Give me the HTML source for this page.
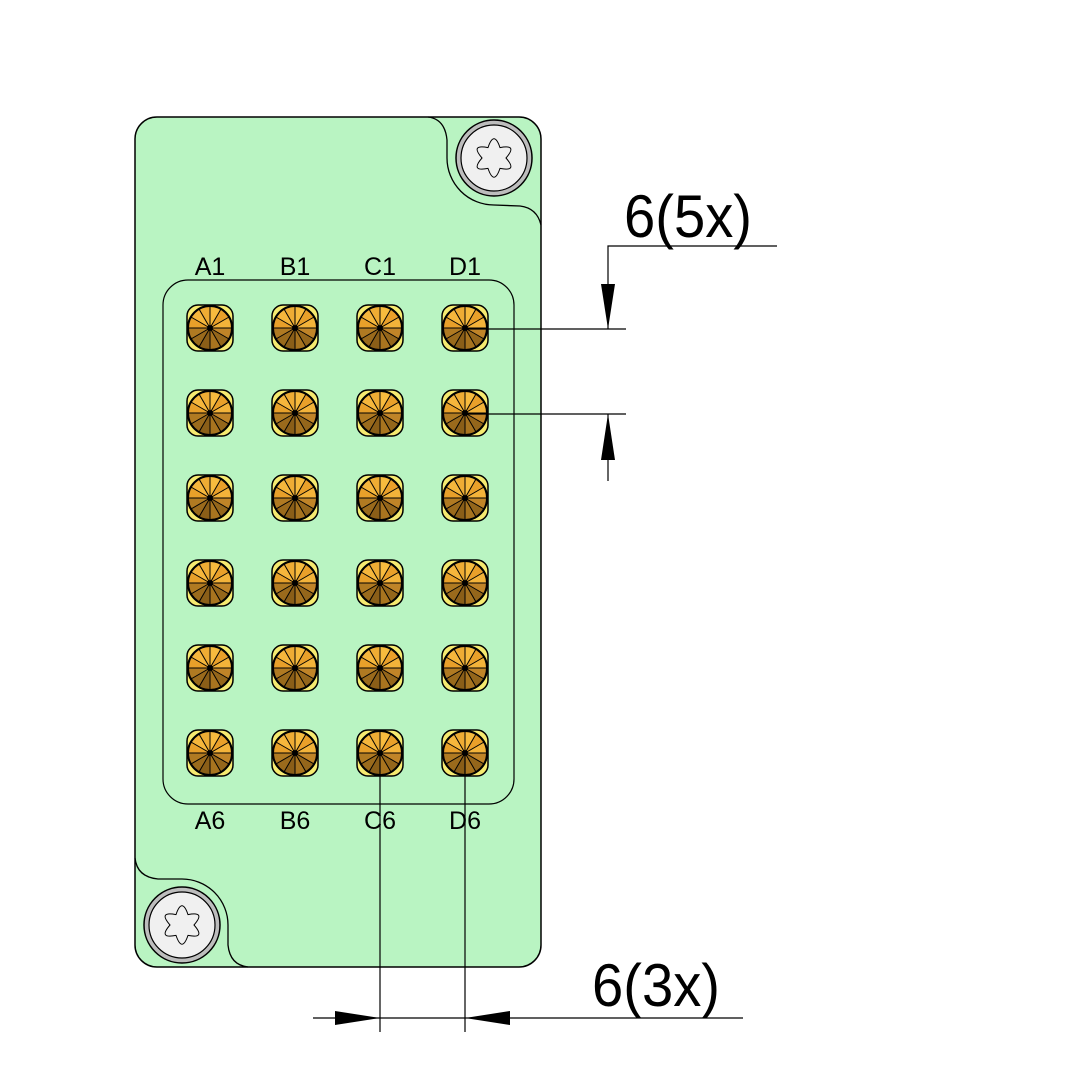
<!DOCTYPE html>
<html><head><meta charset="utf-8"><style>html,body{margin:0;padding:0;background:#fff}</style></head>
<body>
<svg width="1083" height="1083" viewBox="0 0 1083 1083" xmlns="http://www.w3.org/2000/svg">
<defs>
<g id="pin">
<rect x="-23" y="-23" width="46" height="46" rx="11" fill="#f6ea70" stroke="#000" stroke-width="1.5"/>
<circle r="22" fill="#e9a22a" stroke="#000" stroke-width="2"/>
<path d="M0,0L22,0L19.05,-11Z" fill="#f3b33a"/>
<path d="M0,0L19.05,-11L11,-19.05Z" fill="#e9a02a"/>
<path d="M0,0L11,-19.05L0,-22Z" fill="#f7bb3e"/>
<path d="M0,0L0,-22L-11,-19.05Z" fill="#eeac34"/>
<path d="M0,0L-11,-19.05L-19.05,-11Z" fill="#f5b63c"/>
<path d="M0,0L-19.05,-11L-22,0Z" fill="#e8a02a"/>
<path d="M0,0L-22,0L-19.05,11Z" fill="#b07a22"/>
<path d="M0,0L-19.05,11L-11,19.05Z" fill="#9a6a1c"/>
<path d="M0,0L-11,19.05L0,22Z" fill="#8a5e18"/>
<path d="M0,0L0,22L11,19.05Z" fill="#a8741f"/>
<path d="M0,0L11,19.05L19.05,11Z" fill="#94661b"/>
<path d="M0,0L19.05,11L22,0Z" fill="#c08428"/>
<g stroke="#000" stroke-width="1">
<line x1="-22" y1="0" x2="22" y2="0"/><line x1="0" y1="-22" x2="0" y2="22"/>
<line x1="-19.05" y1="-11" x2="19.05" y2="11"/><line x1="-19.05" y1="11" x2="19.05" y2="-11"/>
<line x1="-11" y1="-19.05" x2="11" y2="19.05"/><line x1="-11" y1="19.05" x2="11" y2="-19.05"/>
</g>
<circle r="22" fill="none" stroke="#000" stroke-width="2"/>
<circle r="3" fill="#000"/>
</g>
<g id="screw">
<circle r="38" fill="#bdbdbd" stroke="#000" stroke-width="1.5"/>
<circle r="33" fill="#f0f0f0" stroke="#000" stroke-width="1.2"/>
<path d="M-6,-10.4 Q0,-28 6,-10.4 Q24.2,-14 12,0 Q24.2,14 6,10.4 Q0,28 -6,10.4 Q-24.2,14 -12,0 Q-24.2,-14 -6,-10.4Z" fill="none" stroke="#000" stroke-width="1"/>
</g>
</defs>
<rect x="135" y="117" width="406" height="850" rx="22" fill="#b9f4c2" stroke="#000" stroke-width="1.5"/>
<path d="M428,117 Q445,119 447,140 L447,158 A47 47 0 0 0 494,205 L520,206 Q537,208 541,225" fill="none" stroke="#000" stroke-width="1.3"/>
<path d="M135,858 Q137,877 158,879 L182,879 A46 46 0 0 1 228,925 L228,945 Q230,965 248,967" fill="none" stroke="#000" stroke-width="1.3"/>
<rect x="163" y="280" width="351" height="524" rx="25" fill="none" stroke="#000" stroke-width="1.2"/>
<use href="#screw" x="494" y="158"/>
<use href="#screw" x="182" y="925"/>
<g>
<use href="#pin" x="210" y="328"/><use href="#pin" x="295" y="328"/><use href="#pin" x="380" y="328"/><use href="#pin" x="465" y="328"/>
<use href="#pin" x="210" y="413"/><use href="#pin" x="295" y="413"/><use href="#pin" x="380" y="413"/><use href="#pin" x="465" y="413"/>
<use href="#pin" x="210" y="498"/><use href="#pin" x="295" y="498"/><use href="#pin" x="380" y="498"/><use href="#pin" x="465" y="498"/>
<use href="#pin" x="210" y="583"/><use href="#pin" x="295" y="583"/><use href="#pin" x="380" y="583"/><use href="#pin" x="465" y="583"/>
<use href="#pin" x="210" y="668"/><use href="#pin" x="295" y="668"/><use href="#pin" x="380" y="668"/><use href="#pin" x="465" y="668"/>
<use href="#pin" x="210" y="753"/><use href="#pin" x="295" y="753"/><use href="#pin" x="380" y="753"/><use href="#pin" x="465" y="753"/>
</g>
<g font-family="Liberation Sans, sans-serif" font-size="25" text-anchor="middle" fill="#000">
<text x="210" y="275">A1</text><text x="295" y="275">B1</text><text x="380" y="275">C1</text><text x="465" y="275">D1</text>
<text x="210" y="829">A6</text><text x="295" y="829">B6</text><text x="380" y="829">C6</text><text x="465" y="829">D6</text>
</g>
<g stroke="#000" stroke-width="1.2" fill="none">
<line x1="465" y1="329" x2="626" y2="329"/>
<line x1="465" y1="414" x2="626" y2="414"/>
<polyline points="777,246 608,246 608,329"/>
<line x1="608" y1="414" x2="608" y2="481"/>
<line x1="380" y1="753" x2="380" y2="1032"/>
<line x1="465" y1="753" x2="465" y2="1032"/>
<line x1="313" y1="1018" x2="743" y2="1018"/>
</g>
<g fill="#000">
<polygon points="601,284 615,284 608,329"/>
<polygon points="601,460 615,460 608,414"/>
<polygon points="335,1011 335,1025 380,1018"/>
<polygon points="510,1011 510,1025 465,1018"/>
</g>
<g font-family="Liberation Sans, sans-serif" font-size="60" fill="#000">
<text x="624" y="237" textLength="128" lengthAdjust="spacingAndGlyphs">6(5x)</text>
<text x="592" y="1006" textLength="128" lengthAdjust="spacingAndGlyphs">6(3x)</text>
</g>
</svg>
</body></html>
